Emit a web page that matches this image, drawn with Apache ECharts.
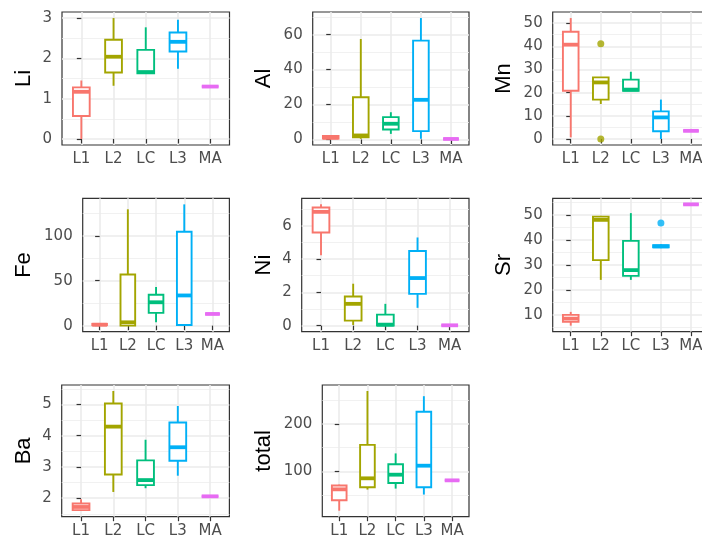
<!DOCTYPE html>
<html>
<head>
<meta charset="utf-8">
<script src="https://cdn.jsdelivr.net/npm/echarts@6/dist/echarts.min.js"></script>
<style>
html,body{margin:0;padding:0;background:#fff;}
#chart{width:702px;height:545px;}
</style>
</head>
<body>
<div id="chart"></div>
<script>
// ---- data ----
const categories = ['L1', 'L2', 'LC', 'L3', 'MA'];
const palette = ['#F8766D', '#A3A500', '#00BF7D', '#00B0F6', '#E76BF3'];

// per category: [lower whisker, Q1, median, Q3, upper whisker]
const Li = [[0, 0.57, 1.17, 1.28, 1.45], [1.32, 1.65, 2.04, 2.46, 3.0], [1.63, 1.63, 1.66, 2.21, 2.77], [1.74, 2.17, 2.41, 2.64, 2.96], [1.3, 1.3, 1.3, 1.3, 1.3]];
const Al = [[0.4, 0.6, 1.0, 2.0, 2.3], [0.4, 1.3, 2.3, 24.2, 57.5], [3.2, 5.7, 9.0, 12.8, 15.6], [0.4, 4.8, 22.7, 56.6, 69.5], [0.3, 0.3, 0.3, 0.3, 0.3]];
const Mn = [[0.7, 20.8, 40.7, 46.3, 52.2], [15.1, 17.0, 24.4, 26.6, 26.6], [20.8, 20.8, 21.3, 25.6, 29.0], [0, 3.3, 9.3, 11.9, 17.0], [3.5, 3.5, 3.5, 3.5, 3.5]];
const Fe = [[0, 0.5, 1.0, 2.0, 2.5], [0, 0, 3.7, 57.0, 129.5], [3.7, 14.2, 26.0, 34.3, 43.0], [0, 0.7, 33.6, 104.5, 135.0], [13, 13, 13, 13, 13]];
const Ni = [[4.23, 5.6, 6.84, 7.1, 7.29], [0.04, 0.3, 1.31, 1.75, 2.52], [0, 0, 0.06, 0.66, 1.31], [1.07, 1.91, 2.86, 4.49, 5.3], [0.02, 0.02, 0.02, 0.02, 0.02]];
const Sr = [[5.7, 7.2, 8.5, 10.0, 11.2], [24.0, 31.9, 48.0, 49.3, 49.6], [24.0, 25.6, 27.9, 39.6, 50.7], [36.7, 37.0, 37.4, 37.9, 38.2], [54.2, 54.2, 54.2, 54.2, 54.2]];
const Ba = [[1.6, 1.62, 1.72, 1.83, 1.97], [2.2, 2.76, 4.29, 5.03, 5.43], [2.32, 2.42, 2.58, 3.21, 3.87], [2.72, 3.2, 3.63, 4.42, 4.95], [2.06, 2.06, 2.06, 2.06, 2.06]];
const total = [[16.8, 39, 62, 70, 72], [61.5, 66.4, 85.3, 156, 270], [63.6, 75.5, 93, 115, 138], [51, 66.4, 112, 226, 259], [81, 81, 81, 81, 81]];

// outliers: [category index, value]
const MnOut = [[1, 41.1], [1, 0]];
const SrOut = [[3, 46.7]];

// tick labels
const LiTicks = [0, 1, 2, 3];
const AlTicks = [0, 20, 40, 60];
const MnTicks = [0, 10, 20, 30, 40, 50];
const FeTicks = [0, 50, 100];
const NiTicks = [0, 2, 4, 6];
const SrTicks = [10, 20, 30, 40, 50];
const BaTicks = [2, 3, 4, 5];
const totalTicks = [100, 200];

// ---- layout ----
const panels = [
  { title: 'Li', stats: Li, out: [], ticks: LiTicks, left: 62, top: 12, width: 167.5, height: 133, titleX: 23 },
  { title: 'Al', stats: Al, out: [], ticks: AlTicks, left: 312.7, top: 12, width: 156.3, height: 133, titleX: 263 },
  { title: 'Mn', stats: Mn, out: MnOut, ticks: MnTicks, left: 552.7, top: 12, width: 156.3, height: 133, titleX: 503 },
  { title: 'Fe', stats: Fe, out: [], ticks: FeTicks, left: 82.7, top: 198.3, width: 146.7, height: 133.4, titleX: 23 },
  { title: 'Ni', stats: Ni, out: [], ticks: NiTicks, left: 301.7, top: 198.3, width: 167.3, height: 133.4, titleX: 263 },
  { title: 'Sr', stats: Sr, out: SrOut, ticks: SrTicks, left: 552.7, top: 198.3, width: 156.3, height: 133.4, titleX: 503 },
  { title: 'Ba', stats: Ba, out: [], ticks: BaTicks, left: 61.7, top: 385, width: 167.7, height: 131.7, titleX: 23 },
  { title: 'total', stats: total, out: [], ticks: totalTicks, left: 322.3, top: 385, width: 146.7, height: 131.7, titleX: 263 }
];

const TICK_FONT = "'DejaVu Sans', 'Liberation Sans', sans-serif";
const TITLE_FONT = "'Liberation Sans', Arial, sans-serif";
const BOX_W = 0.52;

function renderBox(params, api) {
  const k = api.value(0);
  const v = [1, 2, 3, 4, 5].map(function (d) { return api.value(d); });
  const p = v.map(function (val) { return api.coord([k, val]); });
  const cx = p[0][0];
  const half = api.size([1, 0])[0] * BOX_W / 2;
  const color = palette[k];
  const lw = 1.9;
  return {
    type: 'group',
    children: [
      { type: 'line', shape: { x1: cx, y1: p[0][1], x2: cx, y2: p[1][1] }, style: { stroke: color, lineWidth: lw } },
      { type: 'line', shape: { x1: cx, y1: p[3][1], x2: cx, y2: p[4][1] }, style: { stroke: color, lineWidth: lw } },
      { type: 'rect', shape: { x: cx - half, y: p[3][1], width: half * 2, height: p[1][1] - p[3][1] }, style: { fill: '#fff', stroke: color, lineWidth: lw } },
      { type: 'line', shape: { x1: cx - half, y1: p[2][1], x2: cx + half, y2: p[2][1] }, style: { stroke: color, lineWidth: lw * 2 } }
    ]
  };
}

const option = { animation: false, backgroundColor: '#fff', grid: [], xAxis: [], yAxis: [], series: [] };

panels.forEach(function (pn, i) {
  const all = [].concat.apply([], pn.stats).concat(pn.out.map(function (o) { return o[1]; }));
  const lo = Math.min.apply(null, all), hi = Math.max.apply(null, all);
  const pad = (hi - lo) * 0.05;
  const ymin = lo - pad, ymax = hi + pad;
  const step = pn.ticks[1] - pn.ticks[0];
  const minor = [];
  for (let t = pn.ticks[0] - step / 2; t <= ymax; t += step) { if (t >= ymin) minor.push(t); }

  option.grid.push({
    left: pn.left, top: pn.top, width: pn.width, height: pn.height,
    show: true, backgroundColor: '#fff', borderColor: '#333333', borderWidth: 1.2,
    containLabel: false, outerBoundsMode: 'none'
  });
  option.xAxis.push({
    gridIndex: i, type: 'value', min: -0.6, max: 4.6,
    axisLine: { show: false },
    axisTick: { show: true, customValues: [0, 1, 2, 3, 4], length: 4.5, lineStyle: { color: '#333', width: 1.2 } },
    axisLabel: { customValues: [0, 1, 2, 3, 4], formatter: function (val) { return categories[Math.round(val)]; }, color: '#4D4D4D', fontSize: 15, fontFamily: TICK_FONT, margin: 7 },
    splitLine: { show: true, lineStyle: { color: '#EBEBEB', width: 1.6 } }
  });
  option.yAxis.push({
    gridIndex: i, type: 'value', min: ymin, max: ymax,
    name: pn.title, nameLocation: 'middle', nameRotate: 90, nameGap: pn.left - pn.titleX - 12,
    nameTextStyle: { color: '#000', fontSize: 22, fontFamily: TITLE_FONT },
    axisLine: { show: false },
    axisTick: { show: true, customValues: pn.ticks, length: 4.5, lineStyle: { color: '#333', width: 1.2 } },
    axisLabel: { customValues: pn.ticks, color: '#4D4D4D', fontSize: 15, fontFamily: TICK_FONT, margin: 10 },
    splitLine: { show: true, lineStyle: { color: '#EBEBEB', width: 1.6 } }
  });
  option.yAxis.push({
    gridIndex: i, type: 'value', min: ymin, max: ymax, position: 'left',
    axisLine: { show: false },
    axisTick: { show: false, customValues: minor },
    axisLabel: { show: false, customValues: minor },
    splitLine: { show: true, lineStyle: { color: '#EEEEEE', width: 0.8 } }
  });
  option.series.push({
    type: 'custom', xAxisIndex: i, yAxisIndex: 2 * i,
    renderItem: renderBox,
    encode: { x: 0, y: [1, 2, 3, 4, 5] },
    data: pn.stats.map(function (s, k) { return [k].concat(s); }),
    z: 3
  });
  if (pn.out.length) {
    option.series.push({
      type: 'scatter', xAxisIndex: i, yAxisIndex: 2 * i,
      symbol: 'circle', symbolSize: 7,
      itemStyle: { color: function (prm) { return palette[prm.value[0]]; } },
      data: pn.out,
      z: 4
    });
  }
});

const chart = echarts.init(document.getElementById('chart'), null, { renderer: 'canvas' });
chart.setOption(option);
</script>
</body>
</html>
